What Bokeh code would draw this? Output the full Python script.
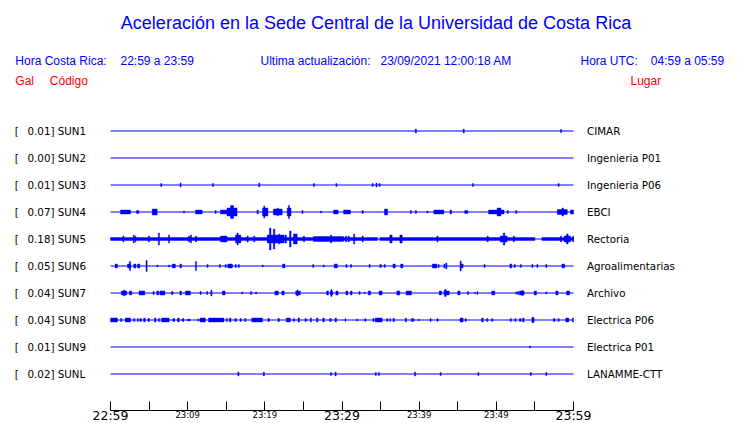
from bokeh.plotting import figure
from bokeh.models import Range1d, LinearAxis, FixedTicker
from bokeh.core.properties import value
from bokeh.embed import file_html
from bokeh.resources import INLINE

# ---------------- data ----------------
title_text = "Aceleración en la Sede Central de la Universidad de Costa Rica"
hora_cr = "22:59 a 23:59"
hora_utc = "04:59 a 05:59"
actualizacion = "23/09/2021 12:00:18 AM"

codes = ["SUN1", "SUN2", "SUN3", "SUN4", "SUN5", "SUN6", "SUN7", "SUN8", "SUN9", "SUNL"]
peak_gal = [0.01, 0.00, 0.01, 0.07, 0.18, 0.05, 0.04, 0.04, 0.01, 0.02]
places = ["CIMAR", "Ingenieria P01", "Ingenieria P06", "EBCI", "Rectoria",
          "Agroalimentarias", "Archivo", "Electrica P06", "Electrica P01", "LANAMME-CTT"]

tick_minutes = [0, 5, 10, 15, 20, 25, 30, 35, 40, 45, 50, 55, 60]
label_minutes = [0, 10, 20, 30, 40, 50, 60]
label_texts = ["22:59", "23:09", "23:19", "23:29", "23:39", "23:49", "23:59"]
label_big = [True, False, False, True, False, False, True]

# continuous noise band (start min, end min, half amplitude) per station
noise_sun5 = [(0.0, 34.6, 1.5), (34.9, 55.0, 1.5), (55.9, 60.0, 1.5)]

# bursts: (start minute, end minute, half amplitude)
bursts_sun1 = [(39.5, 39.65, 2), (45.7, 45.85, 2), (58.3, 58.45, 1.5)]
bursts_sun2 = []
bursts_sun3 = [(6.5, 6.65, 1.5), (9.0, 9.15, 2), (13.2, 13.35, 1.5), (19.2, 19.35, 2),
               (26.3, 26.45, 1.5), (29.2, 29.35, 1.5), (33.9, 34.05, 1.5), (34.4, 34.55, 2),
               (34.8, 34.95, 1.5), (46.9, 47.05, 1.5), (58.0, 58.15, 1.5)]
bursts_sun4 = [(1.3, 2.6, 2), (3.37, 3.67, 1.5), (5.4, 6.05, 3), (9.45, 9.6, 1), (11.02, 11.88, 2),
               (13.55, 13.7, 1.5), (14.25, 15.1, 2), (15.1, 16.4, 4), (15.55, 15.95, 6.5),
               (19.0, 19.15, 2), (19.7, 20.4, 4), (19.85, 20.0, 6), (21.1, 22.25, 3), (21.6, 21.75, 4),
               (22.9, 23.4, 4), (23.05, 23.2, 6.5), (24.8, 24.95, 1.5), (27.2, 27.35, 1),
               (28.9, 29.5, 2), (30.2, 31.1, 2), (32.6, 32.75, 1.5), (35.5, 35.9, 3),
               (38.85, 39.0, 1.5), (39.5, 39.65, 1.5), (41.0, 41.15, 1), (41.9, 43.2, 2),
               (44.0, 44.2, 2), (45.9, 46.3, 1.5), (49.0, 51.0, 2), (50.1, 50.6, 4),
               (51.4, 51.55, 1.5), (52.5, 52.65, 1.5), (57.9, 59.2, 2.5), (58.5, 58.7, 4), (59.6, 60.0, 2)]
bursts_sun5 = [(1.6, 1.75, 3), (2.95, 3.1, 4), (3.2, 3.3, 3), (4.9, 5.05, 3), (6.2, 6.35, 6),
               (7.5, 7.65, 4), (10.1, 10.25, 3), (10.35, 10.5, 4), (11.0, 11.15, 3), (14.25, 15.1, 3),
               (16.2, 16.9, 4), (16.4, 16.55, 6), (17.7, 17.85, 3), (18.55, 18.7, 3), (20.6, 20.8, 11),
               (21.1, 21.3, 10), (20.3, 22.5, 4), (21.8, 21.95, 5), (22.6, 22.8, 4), (23.2, 23.4, 8),
               (23.7, 24.2, 5), (25.0, 25.15, 3), (26.3, 30.2, 2.5), (28.5, 28.65, 4), (30.45, 30.6, 3),
               (30.8, 30.95, 3), (31.5, 31.65, 5), (32.6, 32.75, 3), (36.2, 36.5, 4), (37.5, 37.8, 4),
               (42.3, 42.45, 3), (48.8, 48.95, 3), (50.5, 51.4, 3), (50.9, 51.1, 6), (52.2, 52.35, 3),
               (58.3, 58.45, 3), (58.8, 59.6, 3), (59.1, 59.3, 5), (59.9, 60.0, 3)]
bursts_sun6 = [(0.6, 0.9, 2), (2.2, 2.6, 2), (2.45, 2.6, 4.5), (3.0, 3.3, 2), (3.5, 3.8, 2),
               (4.6, 4.75, 5.5), (6.0, 6.15, 1), (7.5, 7.65, 1), (8.0, 8.4, 2), (9.0, 9.2, 2),
               (11.0, 11.15, 4.5), (12.5, 12.65, 1.5), (14.1, 14.25, 1.5), (14.85, 15.0, 1.5),
               (15.2, 15.8, 2), (16.15, 16.3, 1.5), (16.55, 16.7, 1.5), (19.65, 19.8, 1), (22.3, 22.6, 2),
               (26.2, 26.35, 1.5), (27.55, 27.7, 1), (29.0, 29.4, 2), (30.5, 30.65, 1.5), (31.1, 31.25, 1.5),
               (33.5, 33.65, 1.5), (34.9, 35.1, 1.5), (35.45, 35.6, 1.5), (36.6, 36.9, 2), (37.6, 37.9, 2),
               (41.7, 42.3, 2), (42.45, 42.6, 1.5), (43.2, 43.35, 2), (43.45, 43.6, 3), (45.3, 45.45, 5),
               (45.4, 45.7, 2), (48.4, 48.55, 1.5), (51.75, 52.0, 2), (52.3, 52.45, 1.5), (53.1, 53.25, 1.5),
               (54.6, 54.75, 1.5), (55.25, 55.4, 1.5), (56.4, 56.55, 1.5), (58.5, 58.85, 2)]
bursts_sun7 = [(1.4, 2.1, 2), (1.7, 1.85, 3), (2.45, 2.75, 2), (3.7, 4.45, 2), (5.5, 5.65, 1.5),
               (6.0, 6.25, 2), (6.4, 7.05, 2), (7.9, 8.1, 1.5), (9.0, 9.2, 2), (9.7, 10.35, 2),
               (11.6, 11.75, 1.5), (12.45, 12.6, 1.5), (13.0, 13.15, 3), (14.5, 14.85, 2), (17.0, 17.15, 1),
               (18.15, 18.3, 1.5), (18.8, 18.95, 1), (21.3, 21.75, 2), (22.2, 22.5, 2), (24.0, 24.6, 2),
               (24.15, 24.3, 3), (28.0, 28.25, 2), (28.5, 28.8, 2), (28.55, 28.7, 3.5), (29.2, 29.5, 2),
               (30.5, 30.75, 2), (31.1, 31.3, 2), (32.2, 32.35, 1.5), (32.9, 33.0, 1), (33.4, 33.7, 2),
               (34.8, 35.2, 2), (37.1, 37.5, 2), (38.3, 39.0, 2), (42.6, 42.9, 2), (43.2, 43.9, 2),
               (43.3, 43.5, 3.5), (45.0, 45.3, 2), (46.25, 46.4, 1.5), (47.2, 47.3, 1), (47.5, 47.6, 1.5),
               (49.4, 49.8, 2), (52.5, 52.65, 1), (52.75, 52.9, 1.5), (53.0, 53.6, 2), (53.3, 53.45, 2.5),
               (54.9, 55.2, 2), (56.4, 56.55, 1), (57.7, 58.0, 2), (59.1, 59.5, 2)]
bursts_sun8 = [(0.0, 0.9, 2), (1.3, 1.45, 1.5), (1.9, 2.6, 2), (3.0, 3.15, 1.5), (3.5, 3.6, 1.5),
               (3.8, 4.0, 1.5), (4.3, 4.5, 2), (4.85, 5.05, 1.5), (5.7, 5.9, 2), (6.2, 6.35, 1.5),
               (6.6, 7.6, 2), (8.1, 8.3, 1.5), (8.7, 8.9, 2), (9.3, 9.5, 1.5), (10.0, 10.3, 1),
               (11.3, 11.45, 1), (11.6, 12.3, 2), (12.7, 14.7, 2), (15.0, 15.15, 1.5), (15.4, 15.6, 2),
               (16.1, 16.3, 1.5), (16.8, 16.95, 1.5), (17.4, 17.55, 1.5), (18.3, 19.7, 2), (20.4, 20.6, 1.5),
               (21.7, 21.9, 1.5), (22.8, 23.3, 2), (23.7, 23.85, 1.5), (24.3, 24.5, 2), (25.2, 25.4, 1.5),
               (25.9, 26.05, 2), (26.7, 26.9, 2), (27.5, 27.7, 2), (28.4, 28.6, 1.5), (29.1, 29.3, 2),
               (30.4, 30.5, 1.5), (31.9, 32.05, 1), (32.95, 33.1, 1.5), (34.0, 34.15, 1.5), (34.3, 35.2, 2),
               (35.8, 35.95, 1.5), (36.2, 36.3, 1.5), (36.6, 36.8, 1.5), (38.2, 38.35, 2), (39.0, 39.3, 1.5),
               (39.9, 40.0, 1), (41.4, 41.55, 1.5), (42.3, 42.45, 1.5), (45.3, 45.7, 2), (45.95, 46.1, 1.5),
               (48.1, 48.3, 2), (48.75, 48.9, 1.5), (49.4, 49.55, 1.5), (51.8, 51.95, 1.5), (52.4, 52.55, 1.5),
               (53.0, 53.2, 1.5), (53.4, 53.6, 2), (54.6, 54.9, 2), (54.65, 54.8, 3), (57.4, 57.6, 1.5),
               (58.0, 58.15, 1.5), (59.0, 59.4, 2), (59.85, 60.0, 2)]
bursts_sun9 = [(54.3, 54.45, 1)]
bursts_sunl = [(16.5, 16.65, 2), (19.8, 19.95, 2), (28.5, 28.65, 1.5), (29.1, 29.25, 2), (34.3, 34.45, 1.5),
               (34.7, 34.85, 1.5), (39.4, 39.55, 2), (42.7, 42.85, 1.5), (47.6, 47.75, 1.5),
               (54.4, 54.55, 1.5), (56.4, 56.55, 1.5)]

bursts_all = [bursts_sun1, bursts_sun2, bursts_sun3, bursts_sun4, bursts_sun5,
              bursts_sun6, bursts_sun7, bursts_sun8, bursts_sun9, bursts_sunl]
noise_all = [[], [], [], [], noise_sun5, [], [], [], [], []]

# ---------------- layout ----------------
W, H = 740, 423
X0_PX, X1_PX = 110, 573          # screen px of 22:59 and 23:59
AXIS_Y = 409.5                   # screen px of time axis line
ROW0, ROW_STEP = 130.5, 27
BLUE, RED = "#0000ff", "#ff0000"

ppm = (X1_PX - X0_PX) / 60.0
x_start = (0 - X0_PX) / ppm
x_end = (W - X0_PX) / ppm

p = figure(width=W, height=H, x_range=Range1d(x_start, x_end),
           y_range=Range1d(H, 0),
           x_axis_type=None, y_axis_type=None,
           output_backend="svg", toolbar_location=None,
           min_border_left=0, min_border_right=0, min_border_top=0, min_border_bottom=0)
p.extra_x_ranges = {"px": Range1d(0, W)}
p.outline_line_color = None
p.background_fill_color = "white"
p.border_fill_color = "white"

row_y = [ROW0 + ROW_STEP * i for i in range(len(codes))]

# baselines
p.segment(x0=[0] * len(codes), x1=[60] * len(codes), y0=row_y, y1=row_y,
          line_color=BLUE, line_width=1)

# noise bands + bursts
l, r, t, b = [], [], [], []
for i, (bl, nl) in enumerate(zip(bursts_all, noise_all)):
    for (t0, t1, a) in list(nl) + list(bl):
        l.append(t0); r.append(t1)
        t.append(row_y[i] - a); b.append(row_y[i] + a)
p.quad(left=l, right=r, top=t, bottom=b, fill_color=BLUE, line_color=BLUE, line_width=0.4)

# time axis (ticks only, fixed inside the plot; labels drawn with two sizes)
xaxis = LinearAxis(ticker=FixedTicker(ticks=[], minor_ticks=tick_minutes), bounds=(0, 60),
                   fixed_location=AXIS_Y,
                   major_tick_in=0, major_tick_out=0, minor_tick_in=9, minor_tick_out=0,
                   major_label_standoff=0,
                   axis_line_color="black", minor_tick_line_color="black",
                   axis_line_width=1, minor_tick_line_width=1)
p.add_layout(xaxis, "below")

# text baseline correction (rendered alphabetic baseline sits ~0.33 font-size low)
def ty(y, fs):
    return y - 0.34 * fs

big_x = [m for m, bg in zip(label_minutes, label_big) if bg]
big_t = [s for s, bg in zip(label_texts, label_big) if bg]
small_x = [m for m, bg in zip(label_minutes, label_big) if not bg]
small_t = [s for s, bg in zip(label_texts, label_big) if not bg]
p.text(x=big_x, y=[ty(419.5, 12.5)] * len(big_x), text=big_t,
       text_font=value("DejaVu Sans"), text_font_size=value("12.5px"), text_color="black",
       text_baseline="alphabetic", text_align="center")
p.text(x=small_x, y=[ty(417.0, 8.5)] * len(small_x), text=small_t,
       text_font=value("DejaVu Sans"), text_font_size=value("8.5px"), text_color="black",
       text_baseline="alphabetic", text_align="center")

# station labels
FS = 10.3
left_txt = ["%.2f] %s" % (v, c) for v, c in zip(peak_gal, codes)]
lab_y = [ty(y + 3.5, FS) for y in row_y]
p.text(x=[14.2] * len(codes), y=lab_y, text=["["] * len(codes), x_range_name="px",
       text_font=value("DejaVu Sans"), text_font_size=value("%.1fpx" % FS), text_color="black",
       text_baseline="alphabetic", text_align="left")
p.text(x=[27.0] * len(codes), y=lab_y, text=left_txt, x_range_name="px",
       text_font=value("DejaVu Sans"), text_font_size=value("%.1fpx" % FS), text_color="black",
       text_baseline="alphabetic", text_align="left")
p.text(x=[586.5] * len(codes), y=lab_y, text=places, x_range_name="px",
       text_font=value("DejaVu Sans"), text_font_size=value("%.1fpx" % FS), text_color="black",
       text_baseline="alphabetic", text_align="left")

# title and headers
p.text(x=[375.5], y=[ty(28.5, 18)], text=[title_text], x_range_name="px",
       text_font=value("Liberation Sans"), text_font_size=value("18px"), text_color=BLUE,
       text_baseline="alphabetic", text_align="center")
p.text(x=[14.8, 120, 260, 380, 580, 650.3], y=[ty(64.6, 12)] * 6,
       text=["Hora Costa Rica:", hora_cr, "Ultima actualización:", actualizacion, "Hora UTC:", hora_utc],
       x_range_name="px", text_font=value("Liberation Sans"), text_font_size=value("12px"),
       text_color=BLUE, text_baseline="alphabetic", text_align="left")
p.text(x=[14.8, 49.3, 630], y=[ty(84.6, 12)] * 3, text=["Gal", "Código", "Lugar"],
       x_range_name="px", text_font=value("Liberation Sans"), text_font_size=value("12px"),
       text_color=RED, text_baseline="alphabetic", text_align="left")

open("out.html", "w").write(file_html(p, INLINE))
